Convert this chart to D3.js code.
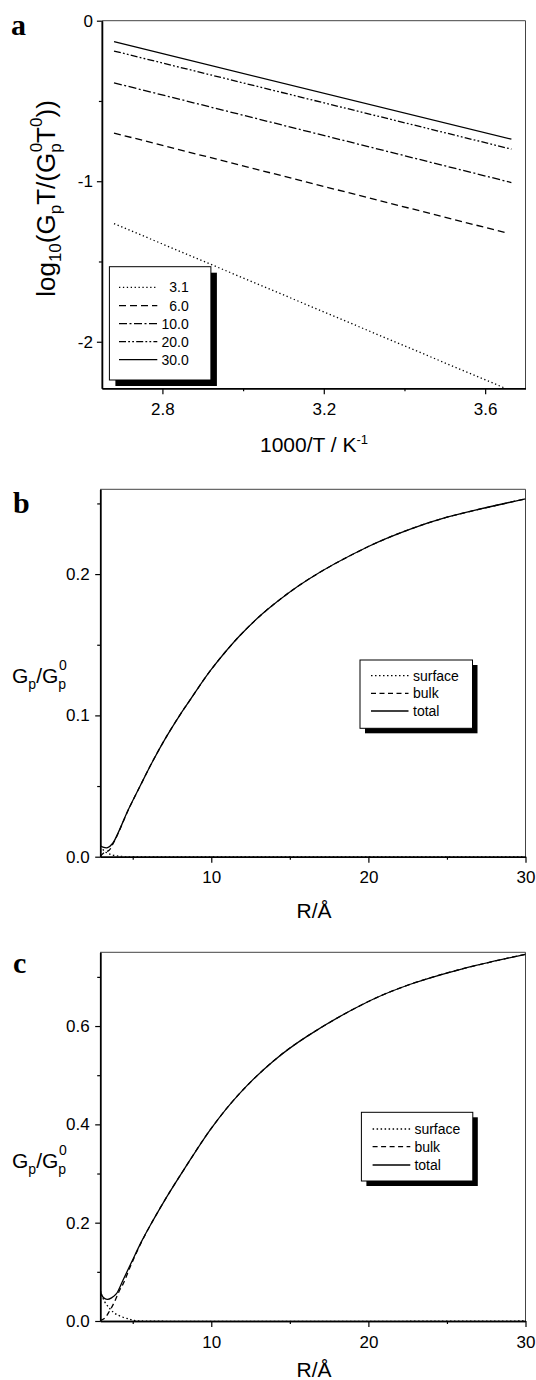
<!DOCTYPE html>
<html><head><meta charset="utf-8">
<script src="https://cdn.jsdelivr.net/npm/d3@7"></script>
<style>
body{margin:0;background:#fff}
text{fill:#000}
</style>
</head><body>
<svg id="chart" width="536" height="1380" xmlns="http://www.w3.org/2000/svg"></svg>
<script>
// ---------- Panel a data ----------
const aLabels = ["3.1", "6.0", "10.0", "20.0", "30.0"];
const a31X = [2.68, 3.65],  a31Y = [-1.264, -2.29];
const a60X = [2.68, 3.65],  a60Y = [-0.70, -1.32];
const a10X = [2.68, 3.665], a10Y = [-0.387, -1.008];
const a20X = [2.68, 3.665], a20Y = [-0.189, -0.80];
const a30X = [2.68, 3.665], a30Y = [-0.131, -0.738];
const aXTicks = [2.8, 3.2, 3.6], aXMinor = [3.0, 3.4];
const aYTicks = [0, -1, -2], aYMinor = [-0.5, -1.5];

// ---------- Panel b data ----------
const bLabels = ["surface", "bulk", "total"];
const bR     = [2.93, 3.1, 3.4, 3.73, 4.06, 4.71, 5.47, 6.23, 7.1, 7.98, 8.63, 10, 11.78, 13.53, 16.14, 20, 22.67, 25.06, 30];
const bTotal = [0.0078, 0.0068, 0.0064, 0.0095, 0.0166, 0.033, 0.050, 0.0667, 0.0841, 0.0999, 0.1106, 0.1325, 0.1560, 0.1745, 0.1960, 0.2195, 0.2318, 0.2404, 0.2532];
const bSurfR = [2.93, 3.2, 3.5, 3.9, 4.5, 6, 30];
const bSurf  = [0.0075, 0.004, 0.002, 0.0007, 0.0001, 0, 0];
const bBulkR = [2.93, 3.2, 3.5, 3.73, 4.06, 4.71, 5.47, 6.23, 7.1, 7.98, 8.63, 10, 11.78, 13.53, 16.14, 20, 22.67, 25.06, 30];
const bBulk  = [0.0003, 0.003, 0.0045, 0.0088, 0.0162, 0.0329, 0.050, 0.0667, 0.0841, 0.0999, 0.1106, 0.1325, 0.1560, 0.1745, 0.1960, 0.2195, 0.2318, 0.2404, 0.2532];
const bXTicks = [10, 20, 30], bXMinor = [5, 15, 25];
const bYTicks = [0, 0.1, 0.2], bYMinor = [0.05, 0.15, 0.25];

// ---------- Panel c data ----------
const cLabels = ["surface", "bulk", "total"];
const cR     = [2.93, 3.05, 3.2, 3.4, 3.65, 3.95, 4.38, 4.93, 5.58, 6.23, 7.1, 7.76, 8.3, 10, 11.78, 13.96, 16.14, 20, 22.67, 25.93, 30];
const cTotal = [0.063, 0.051, 0.046, 0.044, 0.047, 0.055, 0.083, 0.12, 0.163, 0.201, 0.249, 0.283, 0.310, 0.392, 0.462, 0.529, 0.580, 0.650, 0.685, 0.716, 0.746];
const cSurfR = [2.93, 3.2, 3.52, 3.84, 4.27, 4.82, 5.1, 5.6, 30];
const cSurf  = [0.062, 0.040, 0.026, 0.016, 0.009, 0.0035, 0.001, 0.0, 0];
const cBulkR = [2.93, 3.19, 3.52, 3.84, 4.17, 4.38, 4.93, 5.58, 6.23, 7.1, 7.76, 8.3, 10, 11.78, 13.96, 16.14, 20, 22.67, 25.93, 30];
const cBulk  = [0.001, 0.005, 0.02, 0.039, 0.063, 0.075, 0.117, 0.162, 0.201, 0.249, 0.283, 0.310, 0.392, 0.462, 0.529, 0.580, 0.650, 0.685, 0.716, 0.746];
const cXTicks = [10, 20, 30], cXMinor = [5, 15, 25];
const cYTicks = [0, 0.2, 0.4, 0.6], cYMinor = [0.1, 0.3, 0.5, 0.7];

// ---------- helpers ----------
const SANS = '"Liberation Sans",Arial,Helvetica,sans-serif';
const SERIF = '"Liberation Serif","Times New Roman",Times,serif';
const svg = d3.select("#chart").style("font-family", SANS);
svg.append("rect").attr("width", 536).attr("height", 1380).attr("fill", "#fff");
const zip = (xs, ys) => xs.map((v, i) => [v, ys[i]]);
const TICKF = 17, TITLEF = 21, LEGF = 14;

function frameAndAxes(id, x, y, o) {
  const [x0, x1] = x.range(), [yb, yt] = y.range();
  svg.append("defs").append("clipPath").attr("id", id)
    .append("rect").attr("x", x0).attr("y", yt).attr("width", x1 - x0).attr("height", yb - yt);
  svg.append("path").attr("d", `M${x0},${yt}H${x1}V${yb}`).attr("fill", "none")
    .attr("stroke", "#444").attr("stroke-width", 1);
  const gx = svg.append("g").attr("transform", `translate(0,${yb})`)
    .call(d3.axisBottom(x).tickValues(o.xt).tickFormat(o.xf).tickSize(6).tickSizeOuter(0).tickPadding(8.5));
  const gxm = svg.append("g").attr("transform", `translate(0,${yb})`)
    .call(d3.axisBottom(x).tickValues(o.xm).tickFormat("").tickSize(3).tickSizeOuter(0));
  const gy = svg.append("g").attr("transform", `translate(${x0},0)`)
    .call(d3.axisLeft(y).tickValues(o.yt).tickFormat(o.yf).tickSize(5).tickSizeOuter(0).tickPadding(o.ypad));
  const gym = svg.append("g").attr("transform", `translate(${x0},0)`)
    .call(d3.axisLeft(y).tickValues(o.ym).tickFormat("").tickSize(3).tickSizeOuter(0));
  [gx, gxm, gy, gym].forEach(g => {
    g.attr("font-family", null).attr("font-size", null);
    g.select(".domain").attr("stroke", "#000").attr("stroke-width", 1.5);
    g.selectAll(".tick line").attr("stroke", "#000").attr("stroke-width", 1.2);
    g.selectAll(".tick text").style("font-size", TICKF + "px").style("font-family", SANS).attr("fill", "#000");
  });
}

function legend(x, y, w, h, sh, rows) {
  svg.append("rect").attr("x", x + sh).attr("y", y + sh).attr("width", w).attr("height", h).attr("fill", "#000");
  svg.append("rect").attr("x", x).attr("y", y).attr("width", w).attr("height", h)
    .attr("fill", "#fff").attr("stroke", "#000").attr("stroke-width", 1);
  rows.forEach(r => {
    svg.append("line").attr("x1", r.lx1).attr("x2", r.lx2).attr("y1", r.y).attr("y2", r.y)
      .attr("stroke", "#000").attr("stroke-width", 1.3).attr("stroke-dasharray", r.dash);
    svg.append("text").attr("x", r.tx).attr("y", r.y).attr("dy", "0.35em")
      .attr("text-anchor", r.anchor).style("font-size", LEGF + "px").text(r.label);
  });
}

const panelLetter = (t, x, y) => svg.append("text").attr("x", x).attr("y", y)
  .style("font-family", SERIF).style("font-weight", "bold").style("font-size", "30px").text(t);

// ---------- Panel a ----------
{
  const x = d3.scaleLinear().domain([2.65, 3.70]).range([101.9, 525.5]);
  const y = d3.scaleLinear().domain([-2.29, 0]).range([388.3, 20.7]);
  frameAndAxes("clipA", x, y, { xt: aXTicks, xm: aXMinor, yt: aYTicks, ym: aYMinor,
    xf: d3.format(".1f"), yf: d => d3.format("d")(d).replace("−", "-"), ypad: 4 });
  const dashes = ["1.3,2.6", "7,4", "8,2.5,2,2.5", "7,2.2,1.8,2.2,1.8,2.2", null];
  const sets = [zip(a31X, a31Y), zip(a60X, a60Y), zip(a10X, a10Y), zip(a20X, a20Y), zip(a30X, a30Y)];
  const line = d3.line().x(d => x(d[0])).y(d => y(d[1]));
  const g = svg.append("g").attr("clip-path", "url(#clipA)");
  sets.forEach((s, i) => g.append("path").attr("d", line(s)).attr("fill", "none")
    .attr("stroke", "#000").attr("stroke-width", 1.3).attr("stroke-dasharray", dashes[i]));
  const rowsY = [287.3, 305.6, 323.6, 341.6, 359.6];
  legend(109.4, 266.7, 101.5, 113.3, 6, aLabels.map((l, i) => ({
    label: l, y: rowsY[i], lx1: 119, lx2: 157.3, tx: 188.7, anchor: "end", dash: dashes[i] })));
  panelLetter("a", 11, 35);
  const xt = svg.append("text").attr("x", 314).attr("y", 451.7).attr("text-anchor", "middle").style("font-size", TITLEF + "px");
  xt.append("tspan").text("1000/T / K");
  xt.append("tspan").style("font-size", "13px").attr("dy", -8).text("-1");
  const yt = svg.append("text").attr("transform", "translate(55,198.5) rotate(-90)")
    .attr("text-anchor", "middle").style("font-size", "26px");
  const S = "17px";
  yt.append("tspan").text("log");
  yt.append("tspan").style("font-size", S).attr("dy", 6).text("10");
  yt.append("tspan").attr("dy", -6).text("(G");
  yt.append("tspan").style("font-size", S).attr("dy", 6).text("p");
  yt.append("tspan").attr("dy", -6).text("T/(G");
  yt.append("tspan").style("font-size", S).attr("dy", 6).text("p");
  yt.append("tspan").style("font-size", S).attr("dx", -9).attr("dy", -19).text("0");
  yt.append("tspan").attr("dy", 13).text("T");
  yt.append("tspan").style("font-size", S).attr("dy", -13).text("0");
  yt.append("tspan").attr("dy", 13).text("))");
}

// ---------- Panels b and c ----------
function rPanel(id, letter, top, bottom, ymax, R, T, SR, Sv, BR, Bv, o, labels, leg, letterY, titleY, gY) {
  const x = d3.scaleLinear().domain([2.93, 30]).range([100.2, 525.5]);
  const y = d3.scaleLinear().domain([0, ymax]).range([bottom, top]);
  frameAndAxes(id, x, y, { xt: o.xt, xm: o.xm, yt: o.yt, ym: o.ym, xf: d3.format("d"), yf: d3.format(".1f"), ypad: 5.5 });
  const line = d3.line().x(d => x(d[0])).y(d => y(d[1])).curve(d3.curveCatmullRom.alpha(0.5));
  const g = svg.append("g").attr("clip-path", `url(#${id})`);
  const dashes = ["1.5,2.5", "5,3.5", null];
  [zip(SR, Sv), zip(BR, Bv), zip(R, T)].forEach((s, i) =>
    g.append("path").attr("d", line(s)).attr("fill", "none").attr("stroke", "#000")
      .attr("stroke-width", 1.3).attr("stroke-dasharray", dashes[i]));
  legend(leg.x, leg.y, leg.w, leg.h, 5, labels.map((l, i) => ({
    label: l, y: leg.rows[i], lx1: leg.lx1, lx2: leg.lx2, tx: leg.tx, anchor: "start", dash: dashes[i] })));
  panelLetter(letter, 13, letterY);
  svg.append("text").attr("x", 314).attr("y", titleY).attr("text-anchor", "middle").style("font-size", TITLEF + "px").text("R/Å");
  const yt = svg.append("text").attr("x", 12).attr("y", gY).style("font-size", TITLEF + "px");
  yt.append("tspan").text("G");
  yt.append("tspan").style("font-size", "14px").attr("dy", 6).text("p");
  yt.append("tspan").attr("dy", -6).text("/G");
  yt.append("tspan").style("font-size", "14px").attr("dy", 6).text("p");
  yt.append("tspan").style("font-size", "14px").attr("dx", -7).attr("dy", -19).text("0");
}

rPanel("clipB", "b", 489.3, 856.7, 0.26, bR, bTotal, bSurfR, bSurf, bBulkR, bBulk,
  { xt: bXTicks, xm: bXMinor, yt: bYTicks, ym: bYMinor }, bLabels,
  { x: 360, y: 660, w: 112.5, h: 68.3, rows: [675.7, 693.3, 711], lx1: 371, lx2: 408.5, tx: 413 },
  513.3, 918, 683);
rPanel("clipC", "c", 952.3, 1321, 0.75, cR, cTotal, cSurfR, cSurf, cBulkR, cBulk,
  { xt: cXTicks, xm: cXMinor, yt: cYTicks, ym: cYMinor }, cLabels,
  { x: 361.4, y: 1112.3, w: 111.4, h: 68.7, rows: [1129, 1146.7, 1165], lx1: 372.6, lx2: 410.3, tx: 414.4 },
  973.3, 1377, 1168);
</script>
</body></html>
